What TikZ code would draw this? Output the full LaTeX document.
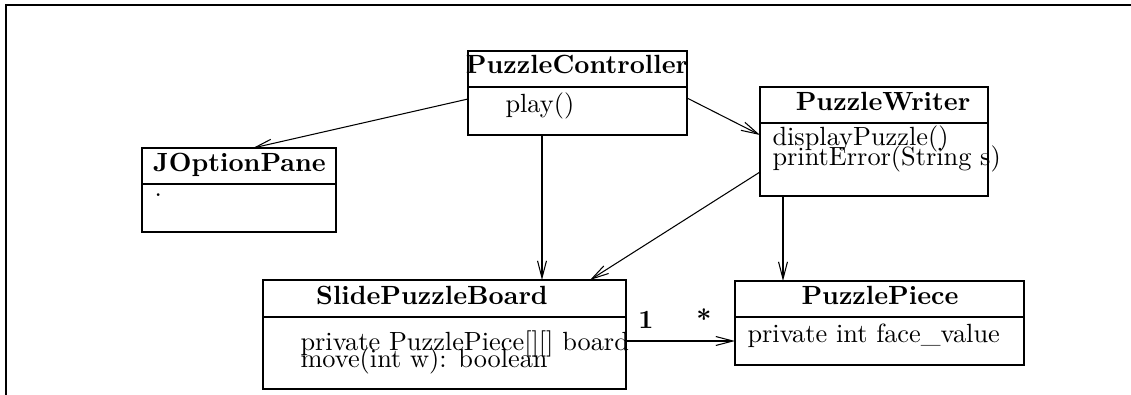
\documentclass[tikz,border=0pt]{standalone}
\usetikzlibrary{arrows.meta}
\begin{document}
\begin{tikzpicture}[x=0.38pt,y=-0.38pt,
  classbox/.style={draw, line width=0.4pt, inner sep=0pt, outer sep=0pt},
  divider/.style={line width=0.4pt},
  title/.style={anchor=base, inner sep=0pt, font=\bfseries},
  member/.style={anchor=base west, inner sep=0pt},
  mult/.style={anchor=base, inner sep=0pt, font=\bfseries},
  arr/.style={line width=0.4pt, -{Straight Barb[length=6.5pt,width=3.4pt]}},
  frameline/.style={line width=0.8pt}]
\useasboundingbox (0,0) rectangle (1131,395);
% frame
\draw[frameline] (6,395) -- (6,5) -- (1131,5);

% PuzzleController
\node[classbox, minimum width=219*0.38pt, minimum height=84*0.38pt] (pc) at (577.5,93) {};
\draw[divider] (pc.west |- 0,87) -- (pc.east |- 0,87);
\node[title] (pct) at (577,74) {PuzzleController};
\node[member] (pcm) at (505,113) {play()};

% JOptionPane
\node[classbox, minimum width=194*0.38pt, minimum height=84*0.38pt] (jo) at (239,190) {};
\draw[divider] (jo.west |- 0,184) -- (jo.east |- 0,184);
\node[title] (jot) at (239.5,172) {JOptionPane};
\node[member] (jom) at (154,197) {.};

% PuzzleWriter
\node[classbox, minimum width=228*0.38pt, minimum height=109*0.38pt] (pw) at (874,141.5) {};
\draw[divider] (pw.west |- 0,123) -- (pw.east |- 0,123);
\node[title] (pwt) at (883,111) {PuzzleWriter};
\node[member] (pwm1) at (772,145) {displayPuzzle()};
\node[member] (pwm2) at (772,166) {printError(String s)};

% SlidePuzzleBoard
\node[classbox, minimum width=363*0.38pt, minimum height=109*0.38pt] (spb) at (444.5,334.5) {};
\draw[divider] (spb.west |- 0,317) -- (spb.east |- 0,317);
\node[title] (spbt) at (432,304) {SlidePuzzleBoard};
\node[member] (spbm1) at (300,350) {private PuzzlePiece[][] board};
\node[member] (spbm2) at (300,367) {move(int w): boolean};

% PuzzlePiece
\node[classbox, minimum width=289*0.38pt, minimum height=84*0.38pt] (pp) at (879.5,323) {};
\draw[divider] (pp.west |- 0,317) -- (pp.east |- 0,317);
\node[title] (ppt) at (880,304) {PuzzlePiece};
\node[member] (ppm) at (747,342) {private int face\_value};

% connectors
\draw[arr] (pc.west |- 0,99) -- (jo.north -| 253,0);
\draw[arr] (pc.south -| 542,0) -- (spb.north -| 542,0);
\draw[arr] (pc.east |- 0,98) -- (pw.west |- 0,135);
\draw[arr] (pw.west |- 0,172) -- (spb.north -| 590,0);
\draw[arr] (pw.south -| 783,0) -- (pp.north -| 783,0);
\draw[arr] (spb.east |- 0,341) -- (pp.west |- 0,341);
\node[mult] (m1) at (646,328) {1};
\node[mult] (m2) at (704,328) {*};
\end{tikzpicture}
\end{document}
